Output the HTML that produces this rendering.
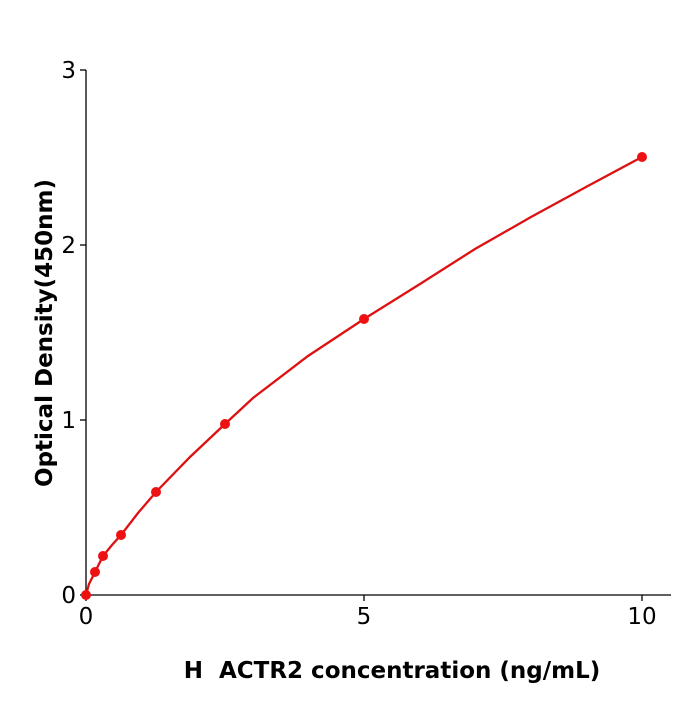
<!DOCTYPE html>
<html><head><style>body{margin:0;background:#fff}</style></head><body>
<svg width="700" height="700" xmlns="http://www.w3.org/2000/svg" font-family="DejaVu Sans, Liberation Sans, sans-serif">
<g stroke="#000" stroke-width="1.3" fill="none">
<line x1="86" y1="70" x2="86" y2="596"/>
<line x1="85" y1="595" x2="671" y2="595"/>
<line x1="80" y1="595" x2="86" y2="595"/>
<line x1="80" y1="420" x2="86" y2="420"/>
<line x1="80" y1="245" x2="86" y2="245"/>
<line x1="80" y1="70" x2="86" y2="70"/>
<line x1="86" y1="595" x2="86" y2="601"/>
<line x1="364" y1="595" x2="364" y2="601"/>
<line x1="642" y1="595" x2="642" y2="601"/>
</g>
<g font-size="23" fill="#000" text-anchor="end">
<text x="76" y="603">0</text><text x="76" y="428">1</text><text x="76" y="253">2</text><text x="76" y="78">3</text>
</g>
<g font-size="23" fill="#000" text-anchor="middle">
<text x="86" y="624">0</text><text x="364" y="624">5</text><text x="642" y="624">10</text>
</g>
<text x="392" y="678" font-size="23" font-weight="bold" text-anchor="middle">H&#160;&#160;ACTR2 concentration (ng/mL)</text>
<text transform="translate(52,333) rotate(-90)" font-size="23" font-weight="bold" text-anchor="middle">Optical Density(450nm)</text>
<polyline fill="none" stroke="#dd1111" stroke-width="2.3" points="86,595 89,584 95,572 103,556 112,545 121,535 138,513 156,492 190,457 225,424 253,398 308,356 364,319 420,284 475,249 531,217 586,187 642,157"/>
<g fill="#ee1111">
<circle cx="86" cy="595" r="5"/><circle cx="95" cy="572" r="5"/><circle cx="103" cy="556" r="5"/><circle cx="121" cy="535" r="5"/><circle cx="156" cy="492" r="5"/><circle cx="225" cy="424" r="5"/><circle cx="364" cy="319" r="5"/><circle cx="642" cy="157" r="5"/>
</g>
</svg>
</body></html>
